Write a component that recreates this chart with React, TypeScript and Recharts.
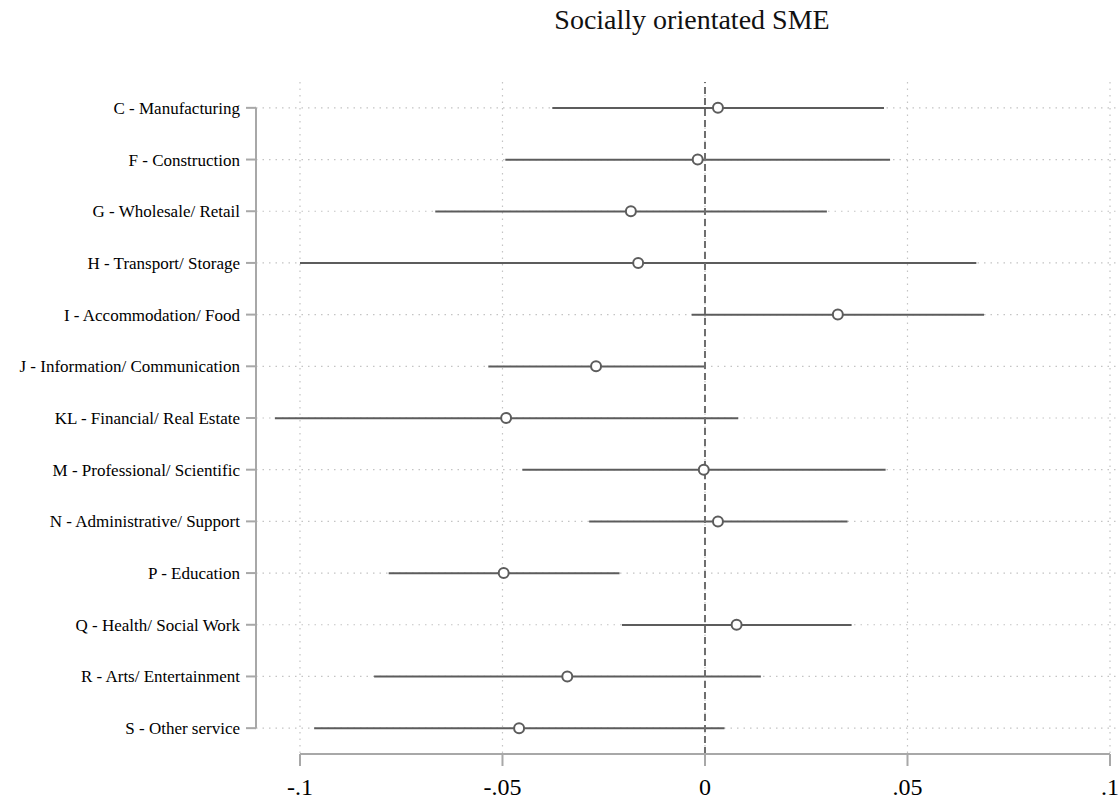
import React from 'react';
import { ComposedChart, Bar, Line, XAxis, YAxis, CartesianGrid, ReferenceLine } from 'recharts';

const categories = [
  'C - Manufacturing',
  'F - Construction',
  'G - Wholesale/ Retail',
  'H - Transport/ Storage',
  'I - Accommodation/ Food',
  'J - Information/ Communication',
  'KL - Financial/ Real Estate',
  'M - Professional/ Scientific',
  'N - Administrative/ Support',
  'P - Education',
  'Q - Health/ Social Work',
  'R - Arts/ Entertainment',
  'S - Other service',
];

const estimates = [0.0032, -0.0018, -0.0183, -0.0165, 0.0328, -0.0269, -0.0491, -0.0003, 0.0032, -0.0497, 0.0078, -0.034, -0.0459];
const lowerCI = [-0.0377, -0.0493, -0.0666, -0.1, -0.0033, -0.0535, -0.1062, -0.0451, -0.0286, -0.0781, -0.0205, -0.0817, -0.0965];
const upperCI = [0.0442, 0.0457, 0.0301, 0.067, 0.0689, -0.0002, 0.0082, 0.0446, 0.0352, -0.0211, 0.0362, 0.0138, 0.0048];

const xTicks = [-0.1, -0.05, 0, 0.05, 0.1];
const xTickLabels = ['-.1', '-.05', '0', '.05', '.1'];
const xDomain: [number, number] = [-0.11086, 0.10247];

const title = 'Socially orientated SME';

const data = categories.map((name, i) => ({
  name,
  est: estimates[i],
  ci: [lowerCI[i], upperCI[i]],
}));

const FONT = '"Liberation Serif", "DejaVu Serif", serif';
const LINE = '#5c5c5c';
const AXIS = '#a8a8a8';
const GRID = '#c4c4c4';
const GRID_DASH = '1.5 5';

export default function App() {
  return (
    <div style={{ position: 'absolute', left: 0, top: 0, width: 1120, height: 801, background: '#fff' }}>
      <div
        style={{
          position: 'absolute',
          left: 492,
          top: 4,
          width: 400,
          textAlign: 'center',
          fontFamily: FONT,
          fontSize: 28,
          color: '#111',
          whiteSpace: 'nowrap',
        }}
      >
        {title}
      </div>
      <ComposedChart
        width={1120}
        height={801}
        data={data}
        layout="vertical"
        margin={{ top: 82, right: 0, bottom: 0, left: 0 }}
      >
        <CartesianGrid
          syncWithTicks
          verticalValues={xTicks}
          stroke={GRID}
          strokeWidth={1.2}
          strokeDasharray={GRID_DASH}
        />
        <XAxis
          type="number"
          domain={xDomain}
          ticks={xTicks}
          allowDataOverflow
          tickFormatter={(v: number) => xTickLabels[xTicks.indexOf(v)] ?? String(v)}
          axisLine={false}
          tickLine={{ stroke: AXIS, strokeWidth: 2 }}
          tickSize={12}
          tickMargin={12}
          height={47}
          tick={{ fontFamily: FONT, fontSize: 24, fill: '#000' }}
        />
        <YAxis
          type="category"
          dataKey="name"
          width={256}
          interval={0}
          axisLine={false}
          tickLine={{ stroke: AXIS, strokeWidth: 2 }}
          tickSize={10}
          tickMargin={6}
          tick={{ fontFamily: FONT, fontSize: 17, fill: '#000' }}
        />
        {/* hidden index axis spanning the full plot height, used only to place the x-axis frame line */}
        <YAxis yAxisId="frame" hide />
        <ReferenceLine x={0} stroke="#6e6e6e" strokeWidth={2} strokeDasharray="7 4" />
        <ReferenceLine
          ifOverflow="visible"
          stroke={AXIS}
          strokeWidth={2}
          segment={[
            { x: xDomain[0], y: categories[0] },
            { x: xDomain[0], y: categories[categories.length - 1] },
          ]}
        />
        <ReferenceLine
          yAxisId="frame"
          ifOverflow="visible"
          stroke={AXIS}
          strokeWidth={2}
          segment={[
            { x: xTicks[0], y: data.length - 1 },
            { x: xTicks[xTicks.length - 1], y: data.length - 1 },
          ]}
        />
        <Bar dataKey="ci" barSize={2} fill={LINE} isAnimationActive={false} />
        <Line
          dataKey="est"
          stroke="none"
          strokeWidth={0}
          isAnimationActive={false}
          dot={{ r: 5, stroke: LINE, strokeWidth: 2, fill: '#fff' }}
          activeDot={false}
        />
      </ComposedChart>
    </div>
  );
}
